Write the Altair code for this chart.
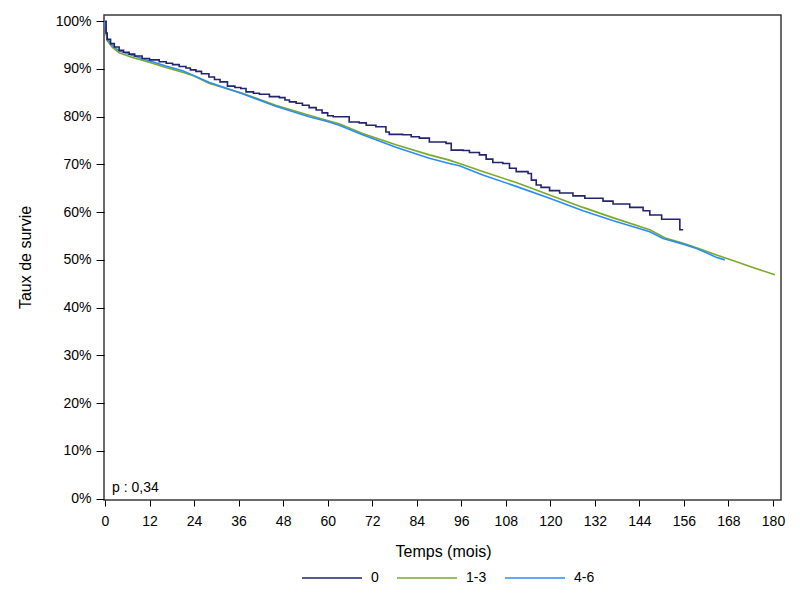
import altair as alt
import pandas as pd

# ---- data (months, survival %) ----
t_0 = [0, 0.3, 0.6, 1.5, 2.5, 3.8, 5, 6.5, 8, 10, 12, 14.6, 16.5, 18.2, 20, 21.8, 23, 24.5,
       26, 28, 29.5, 31, 33, 35, 36.6, 38, 40, 41.6, 44.3, 47, 48.5, 49.7, 51.5, 53.2, 55,
       56.9, 58.5, 60, 61.5, 65.8, 68.5, 70.4, 73, 75.7, 76.6, 80.2, 82.5, 84.7, 87.4, 91.9,
       93.3, 96.5, 98.2, 100.9, 102.7, 104.5, 107.2, 109, 110.8, 114, 114.9, 116.2, 117.5,
       119.8, 122.5, 126.1, 129.3, 134.2, 136.9, 141.4, 145, 146.8, 150, 154.9, 155.8]
s_0 = [100, 97.5, 96.2, 95.3, 94.6, 93.9, 93.5, 93.1, 92.7, 92.2, 91.9, 91.5, 91.2, 90.9, 90.5,
       90.2, 89.8, 89.5, 89.0, 88.3, 87.8, 87.3, 86.4, 86.1, 85.9, 85.2, 84.9, 84.7, 84.2, 84.0,
       83.5, 83.1, 82.8, 82.4, 81.9, 81.4, 80.8, 80.2, 80.0, 78.9, 78.7, 78.2, 77.9, 76.8, 76.3,
       76.2, 75.8, 75.5, 74.7, 74.4, 73.0, 72.9, 72.5, 72.0, 71.1, 70.4, 70.2, 69.2, 68.5, 68.1,
       66.7, 65.7, 65.2, 64.5, 64.0, 63.4, 62.9, 62.3, 61.7, 61.0, 60.3, 59.4, 58.5, 56.3, 56.3]

t_13 = [0, 0.3, 0.6, 2, 3.8, 7.4, 11.9, 16.4, 20.9, 24, 28, 37, 46, 55, 60.4, 63.1, 69.4, 78.4,
        87.4, 92.8, 95.5, 101.8, 110.8, 119.8, 128.8, 137, 146.8, 151, 155.8, 160, 164.8, 169,
        173.8, 177, 180.5]
s_13 = [100, 97.5, 95.9, 94.5, 93.4, 92.4, 91.4, 90.3, 89.3, 88.5, 87.0, 84.9, 82.4, 80.3, 79.1,
        78.5, 76.5, 74.1, 72.0, 70.9, 70.2, 68.5, 66.2, 63.6, 61.0, 58.8, 56.3, 54.6, 53.5, 52.4,
        51.0, 49.9, 48.6, 47.8, 46.9]

t_46 = [0, 0.3, 0.6, 2, 3.8, 7.4, 11.9, 16.4, 20.9, 24, 28, 37, 46, 55, 60.4, 63.1, 69.4, 78.4,
        87.4, 92.8, 95.5, 101.8, 110.8, 119.8, 128.8, 137, 146.8, 150.4, 155.8, 159.4, 162.1,
        164.5, 167]
s_46 = [100, 97.8, 96.3, 94.9, 93.8, 92.8, 91.7, 90.6, 89.6, 88.6, 87.2, 84.8, 82.2, 80.0, 78.9,
        78.2, 76.2, 73.6, 71.3, 70.2, 69.7, 67.8, 65.4, 62.9, 60.3, 58.2, 55.9, 54.5, 53.3, 52.4,
        51.5, 50.6, 50.0]

groups = ["0", "1-3", "4-6"]
colors = ["#23236E", "#7BAA26", "#2A8CF4"]
x_ticks = list(range(0, 181, 12))
y_ticks = [i / 10 for i in range(11)]
p_text = "p : 0,34"

rows = []
for g, ts, ss in [("0", t_0, s_0), ("1-3", t_13, s_13), ("4-6", t_46, s_46)]:
    for t, s in zip(ts, ss):
        rows.append({"t": t, "s": s / 100.0, "g": g})
df = pd.DataFrame(rows)

FONT = "Liberation Sans"

color_enc = alt.Color(
    "g:N",
    scale=alt.Scale(domain=groups, range=colors),
    legend=alt.Legend(
        title=None, orient="none", direction="horizontal",
        legendX=197, legendY=532,
        symbolType="stroke", symbolSize=3600, symbolStrokeWidth=1.6,
        labelFontSize=14, labelFont=FONT, labelColor="#000",
        labelOffset=8, columnPadding=14, padding=0,
    ),
)

x_enc = alt.X(
    "t:Q",
    scale=alt.Scale(domain=[-0.27, 182.16], nice=False, zero=False),
    axis=alt.Axis(
        values=x_ticks, title="Temps (mois)", grid=False, domain=False,
        tickSize=6, tickColor="#000", labelPadding=8, labelFontSize=14,
        labelFont=FONT, labelColor="#000", titleFont=FONT, titleFontSize=16,
        titleFontWeight="normal", titleColor="#000", titleX=339, titleY=51,
        titleBaseline="middle",
    ),
)
y_enc = alt.Y(
    "s:Q",
    scale=alt.Scale(domain=[-0.003, 1.013], nice=False, zero=False),
    axis=alt.Axis(
        values=y_ticks, format=".0%", title="Taux de survie", grid=False, domain=False,
        tickSize=8, tickColor="#000", labelPadding=5, labelFontSize=14,
        labelFont=FONT, labelColor="#000", titleFont=FONT, titleFontSize=16,
        titleFontWeight="normal", titleColor="#000", titleX=-79, titleY=242,
        titleAngle=270, titleAlign="center", titleBaseline="middle",
    ),
)

base = alt.Chart(df)
line0 = base.transform_filter(alt.datum.g == "0").mark_line(
    interpolate="step-after", strokeWidth=1.6
).encode(x=x_enc, y=y_enc, color=color_enc)
line_other = base.transform_filter(alt.datum.g != "0").mark_line(
    strokeWidth=1.6
).encode(x=x_enc, y=y_enc, color=color_enc)

ptext = alt.Chart(pd.DataFrame({"label": [p_text]})).mark_text(
    align="left", baseline="middle", font=FONT, fontSize=14, color="#000"
).encode(text="label:N", x=alt.value(8), y=alt.value(473))

chart = alt.layer(line_other, line0, ptext).properties(
    width=677, height=485,
    autosize=alt.AutoSizeParams(type="none"),
    padding={"left": 96, "top": 7, "right": 11, "bottom": 85},
    background="white",
).configure_view(stroke="#3a3a3a", strokeWidth=1.5)

chart.save("out.html", embed_options={"renderer": "svg", "actions": False})
